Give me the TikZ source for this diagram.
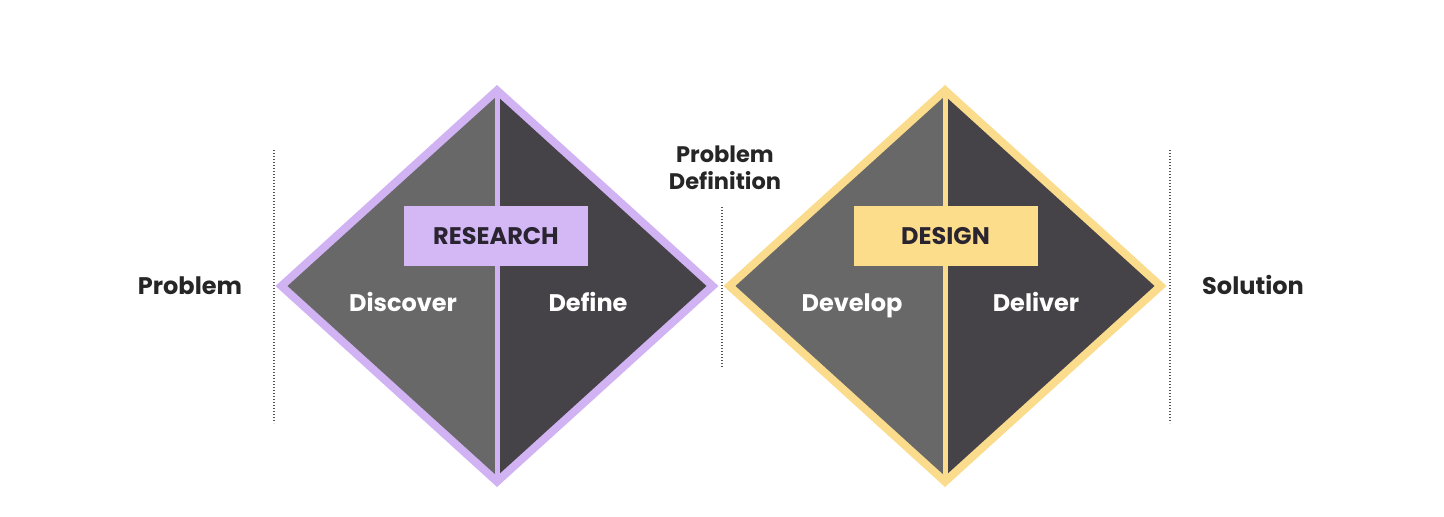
\documentclass[tikz,border=0pt]{standalone}
\usepackage{fontspec}
\setmainfont{Poppins}
\definecolor{lav}{HTML}{D1B3F4}
\definecolor{lavbox}{HTML}{D4B8F6}
\definecolor{yel}{HTML}{FADC8C}
\definecolor{yelbox}{HTML}{FCDD8C}
\definecolor{midgray}{HTML}{686868}
\definecolor{darkgray}{HTML}{454347}
\definecolor{ink}{HTML}{262626}
\definecolor{boxink}{HTML}{2A2430}
\definecolor{dotgray}{HTML}{555555}
\tikzset{
  lbl/.style={font=\fontsize{24}{27}\selectfont\bfseries, text=ink, inner sep=0pt, text height=17pt, text depth=0pt},
  pdlbl/.style={font=\fontsize{22.5}{27}\selectfont\bfseries, text=ink, align=center, inner sep=0pt, anchor=base},
  inlbl/.style={font=\fontsize{24}{27}\selectfont\bfseries, text=white, inner sep=0pt, text height=17pt, text depth=0pt},
  boxlbl/.style={font=\fontsize{24}{27}\selectfont\bfseries, text=boxink, minimum width=184pt, minimum height=60pt, inner sep=0pt, text height=17pt, text depth=0pt},
  sep/.style={dotgray, line width=1.4pt, dash pattern=on 1.4pt off 1.6pt},
}
\newcommand{\diam}[3]{% cx, cy, border colour
  \fill[#3] (#1-221.5,#2) -- (#1,#2-201) -- (#1+221.5,#2) -- (#1,#2+201) -- cycle;
  \fill[midgray] (#1-209.5,#2) -- (#1,#2-190) -- (#1,#2+190) -- cycle;
  \fill[darkgray] (#1+209.5,#2) -- (#1,#2-190) -- (#1,#2+190) -- cycle;
  \draw[#3, line width=5pt] (#1,#2-198) -- (#1,#2+198);
}
\begin{document}
\begin{tikzpicture}[x=1pt,y=-1pt]
\useasboundingbox[fill=white] (0,0) rectangle (1444,517);
\diam{497}{286}{lav}
\diam{945}{286}{yel}
% boxes
\node[boxlbl, fill=lavbox] (research) at (496,236) {RESEARCH};
\node[boxlbl, fill=yelbox] (design) at (945.5,236) {DESIGN};
% inner labels
\node[inlbl] (discover) at (403,303) {Discover};
\node[inlbl] (define) at (588,303) {Define};
\node[inlbl] (develop) at (852,303) {Develop};
\node[inlbl] (deliver) at (1036,303) {Deliver};
% outer labels
\node[lbl] (problem) at (190,286) {Problem};
\node[lbl] (solution) at (1253,286) {Solution};
\node[pdlbl] (probdef) at (725,189.5) {Problem\\Definition};
% dotted separators
\coordinate (s1a) at (274,150); \coordinate (s1b) at (274,423);
\coordinate (s2a) at (722,207); \coordinate (s2b) at (722,367);
\coordinate (s3a) at (1170,150); \coordinate (s3b) at (1170,423);
\draw[sep] (s1a) -- (s1b);
\draw[sep] (s2a) -- (s2b);
\draw[sep] (s3a) -- (s3b);
\end{tikzpicture}
\end{document}
